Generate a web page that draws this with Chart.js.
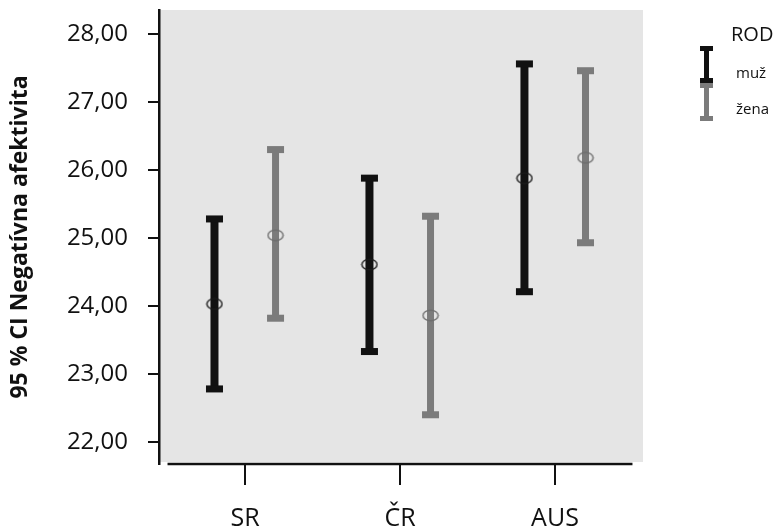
<!DOCTYPE html>
<html><head><meta charset="utf-8">
<script src="https://cdn.jsdelivr.net/npm/chart.js@4"></script>
<style>html,body{margin:0;padding:0;background:#fff;}</style>
</head><body>
<canvas id="c" width="781" height="532" style="display:block;width:781px;height:532px"></canvas>
<script>
// ---- data ----
const categories = ['SR', 'ČR', 'AUS'];
const seriesNames = ['muž', 'žena'];
const legendTitle = 'ROD';
const yTitle = '95 % CI Negatívna afektivita';
const muzMean  = [24.03, 24.61, 25.88];
const muzLower = [22.78, 23.33, 24.21];
const muzUpper = [25.28, 25.88, 27.56];
const zenaMean  = [25.04, 23.86, 26.18];
const zenaLower = [23.82, 22.40, 24.93];
const zenaUpper = [26.30, 25.32, 27.46];
const yTicks = [22, 23, 24, 25, 26, 27, 28];

// ---- styling ----
const FONT = "'Open Sans', 'Noto Sans', sans-serif";
const dodge = [-0.197, 0.197];
const colors = ['#111111', '#7b7b7b'];
const ellipseColors = ['#1a1a1a', '#6e6e6e'];
const barW = [8, 7];
const capW = 17, capH = 7;

function ellipseImg(color) {
  const c = document.createElement('canvas');
  c.width = 18; c.height = 13;
  const x = c.getContext('2d');
  x.strokeStyle = color; x.lineWidth = 1.4;
  x.beginPath(); x.ellipse(9, 6.5, 7.6, 5.3, 0, 0, Math.PI * 2); x.stroke();
  return c;
}

const series = [
  {name: seriesNames[0], mean: muzMean, lo: muzLower, hi: muzUpper},
  {name: seriesNames[1], mean: zenaMean, lo: zenaLower, hi: zenaUpper}
];

const datasets = series.map((s, k) => ({
  label: s.name,
  data: categories.map((c, i) => ({x: i + dodge[k], y: s.mean[i]})),
  pointStyle: ellipseImg(ellipseColors[k]),
  pointRadius: 8,
  borderColor: colors[k],
  backgroundColor: colors[k],
  showLine: false
}));

const bgPlugin = {
  id: 'bg',
  beforeDraw(chart) {
    const {ctx, chartArea: a} = chart;
    ctx.save();
    ctx.fillStyle = '#e5e5e5';
    ctx.fillRect(a.left, a.top, a.right - a.left, a.bottom - a.top - 2);
    ctx.restore();
  }
};

const errPlugin = {
  id: 'err',
  beforeDatasetsDraw(chart) {
    const {ctx} = chart;
    const xs = chart.scales.x, ys = chart.scales.y;
    ctx.save();
    series.forEach((s, k) => {
      ctx.fillStyle = colors[k];
      categories.forEach((c, i) => {
        const x = xs.getPixelForValue(i + dodge[k]);
        const yt = ys.getPixelForValue(s.hi[i]);
        const yb = ys.getPixelForValue(s.lo[i]);
        ctx.fillRect(x - barW[k] / 2, yt, barW[k], yb - yt);
        ctx.fillRect(x - capW / 2, yt - capH / 2, capW, capH);
        ctx.fillRect(x - capW / 2, yb - capH / 2, capW, capH);
      });
    });
    // x axis line across the category span
    const a = chart.chartArea;
    ctx.strokeStyle = '#111';
    ctx.lineWidth = 2.5;
    ctx.beginPath();
    ctx.moveTo(xs.getPixelForValue(-0.5), a.bottom);
    ctx.lineTo(xs.getPixelForValue(categories.length - 0.5), a.bottom);
    ctx.stroke();
    ctx.restore();
  },
  afterDraw(chart) {
    const {ctx} = chart;
    ctx.save();
    ctx.fillStyle = '#111';
    ctx.font = '20px ' + FONT;
    ctx.textBaseline = 'middle';
    ctx.textAlign = 'left';
    ctx.fillText(legendTitle, 731, 35);
    const rows = [{y0: 46, y1: 83, ty: 74}, {y0: 83, y1: 121, ty: 110}];
    series.forEach((s, k) => {
      const r = rows[k];
      ctx.fillStyle = colors[k];
      ctx.fillRect(704, r.y0, 5, r.y1 - r.y0);
      ctx.fillRect(700, r.y0, 13, 5);
      ctx.fillRect(700, r.y1 - 5, 13, 5);
      ctx.fillStyle = '#111';
      ctx.font = '15px ' + FONT;
      ctx.fillText(s.name, 736, r.ty);
    });
    ctx.restore();
  }
};

Chart.defaults.font.family = FONT;
new Chart(document.getElementById('c'), {
  type: 'scatter',
  data: {datasets},
  plugins: [bgPlugin, errPlugin],
  options: {
    responsive: false,
    animation: false,
    devicePixelRatio: 1,
    layout: {padding: {left: 0, top: 10, right: 138, bottom: 0}},
    plugins: {legend: {display: false}, tooltip: {enabled: false}},
    scales: {
      x: {
        type: 'linear',
        min: -0.555, max: 2.568,
        afterBuildTicks: (sc) => { sc.ticks = categories.map((c, i) => ({value: i})); },
        afterFit: (sc) => { sc.height = 68; sc.paddingLeft = 0; sc.paddingRight = 0; },
        ticks: {
          callback: (v) => categories[v],
          font: {size: 25, family: FONT},
          color: '#111',
          padding: 19,
          maxRotation: 0,
          autoSkip: false
        },
        grid: {drawOnChartArea: false, drawTicks: true, tickLength: 21, color: '#111', lineWidth: 2},
        border: {display: false}
      },
      y: {
        min: 21.676, max: 28.353,
        afterBuildTicks: (sc) => { sc.ticks = yTicks.map(v => ({value: v})); },
        afterFit: (sc) => { sc.width = 159; sc.paddingTop = 0; sc.paddingBottom = 0; },
        ticks: {
          callback: (v) => v.toFixed(2).replace('.', ','),
          font: {size: 24, family: FONT},
          color: '#111',
          padding: 20
        },
        grid: {drawOnChartArea: false, drawTicks: true, tickLength: 11, color: '#111', lineWidth: 2},
        border: {display: true, color: '#111', width: 2.5},
        title: {
          display: true,
          text: yTitle,
          font: {size: 23, weight: 'bold', family: FONT},
          color: '#111',
          padding: {top: 7, bottom: 0}
        }
      }
    }
  }
});
</script>
</body></html>
